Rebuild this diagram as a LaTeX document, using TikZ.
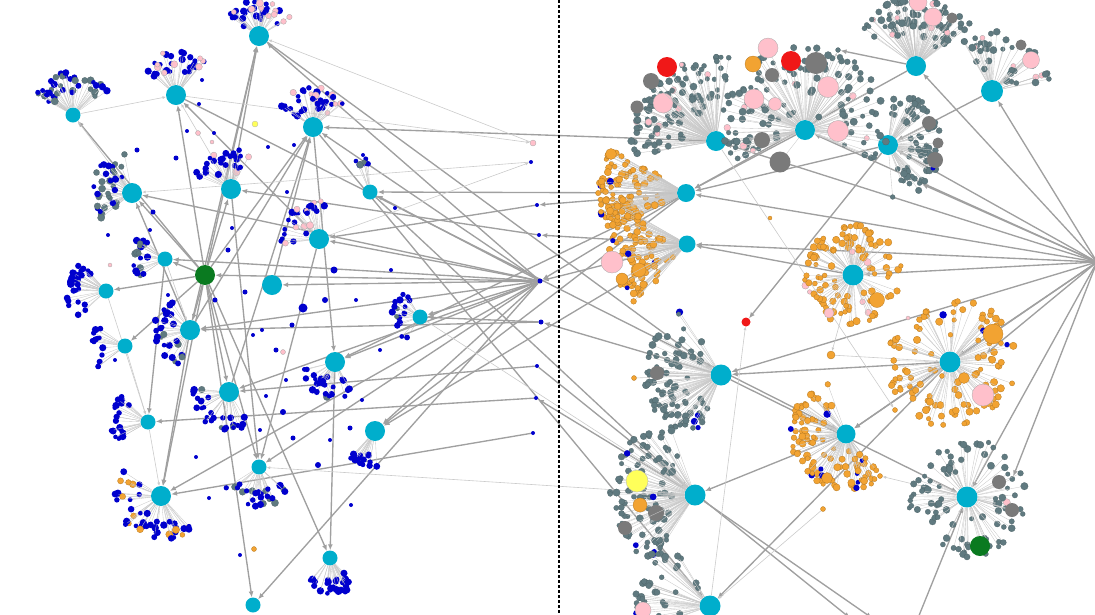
\documentclass[tikz,border=0pt]{standalone}
\usepackage{tikz}
\usetikzlibrary{calc,backgrounds,arrows.meta}

\definecolor{hubcyan}{RGB}{0,174,204}
\definecolor{rootgreen}{RGB}{10,122,32}
\definecolor{dotblue}{RGB}{0,0,205}
\definecolor{dotpink}{RGB}{255,192,203}
\definecolor{dotslate}{RGB}{96,122,128}
\definecolor{dotgray}{RGB}{122,122,122}
\definecolor{dotorange}{RGB}{242,163,50}
\definecolor{dotred}{RGB}{240,24,24}
\definecolor{dotyellow}{RGB}{255,255,90}
\definecolor{edgegray}{RGB}{160,160,160}
\definecolor{fangray}{RGB}{200,200,200}

\tikzset{
  hub/.style={circle, fill=hubcyan, inner sep=0pt, minimum size=20pt},
  smallhub/.style={hub, minimum size=15pt},
  rootnode/.style={hub, fill=rootgreen},
  satdot/.style={circle, inner sep=0pt, minimum size=4pt},
  bluedot/.style={satdot, fill=dotblue},
  pinkdot/.style={satdot, fill=dotpink, draw=gray!70, line width=0.3pt},
  slatedot/.style={satdot, fill=dotslate, draw=dotslate!80!black, line width=0.2pt},
  graydot/.style={satdot, fill=dotgray},
  orangedot/.style={satdot, fill=dotorange, draw=dotorange!75!black, line width=0.3pt},
  reddot/.style={satdot, fill=dotred},
  yellowdot/.style={satdot, fill=dotyellow, draw=gray!60, line width=0.3pt},
  greendot/.style={satdot, fill=rootgreen},
  fanline/.style={draw=fangray, line width=0.35pt},
  link/.style={draw=edgegray, line width=1.35pt, -{Latex[length=6pt,width=5pt]}},
  faint/.style={draw=edgegray!55, line width=0.6pt, -{Latex[length=3.5pt,width=3pt]}},
  divider/.style={black, line width=1.3pt, dash pattern=on 3pt off 2pt},
}

% fan of satellites round a hub:
% hub, direction, spread, rmin, rmax, count, main style, other style, share of other
\newcommand{\fan}[9]{%
  \foreach \k in {1,...,#6}{%
    \pgfmathsetmacro\fanang{#2+#3*(rnd-0.5)}%
    \pgfmathsetmacro\fandist{#4+(#5-#4)*sqrt(rnd)}%
    \pgfmathsetmacro\fansz{4.5+3*rnd}%
    \pgfmathsetmacro\fanpick{rnd<#9 ? 1 : 0}%
    \coordinate (#1-p\k) at ($(#1)+(\fanang:\fandist)$);
    \draw[fanline] (#1) -- (#1-p\k);
    \ifdim\fanpick pt>0.5pt
      \node[#8, minimum size=\fansz pt] (#1-\k) at (#1-p\k) {};
    \else
      \node[#7, minimum size=\fansz pt] (#1-\k) at (#1-p\k) {};
    \fi
  }%
}

\begin{document}
\begin{tikzpicture}[x=1pt, y=-1pt]
\pgfmathsetseed{42}
\useasboundingbox (0,0) rectangle (1095,614);

% Hubs, left part
\node[hub] (L1) at (259,36) {};
\node[hub] (L2) at (176,95) {};
\node[smallhub] (L3) at (73,115) {};
\node[hub] (L4) at (313,127) {};
\node[hub] (L5) at (132,193) {};
\node[hub] (L6) at (231,189) {};
\node[smallhub] (L7) at (370,192) {};
\node[hub] (L8) at (319,239) {};
\node[smallhub] (L9) at (165,259) {};
\node[rootnode] (G) at (205,275) {};
\node[hub] (L10) at (272,285) {};
\node[smallhub] (L11) at (106,291) {};
\node[smallhub] (L12) at (420,317) {};
\node[hub] (L13) at (190,330) {};
\node[smallhub] (L14) at (125,346) {};
\node[hub] (L15) at (335,362) {};
\node[hub] (L16) at (229,392) {};
\node[hub] (L17) at (375,431) {};
\node[smallhub] (L18) at (148,422) {};
\node[smallhub] (L19) at (259,467) {};
\node[hub] (L20) at (161,496) {};
\node[smallhub] (L21) at (330,558) {};
\node[smallhub] (L22) at (253,605) {};

% Hubs, right part
\node[hub] (R1) at (716,141) {};
\node[hub] (R2) at (805,130) {};
\node[hub] (R3) at (916,66) {};
\node[hub, minimum size=22pt] (R4) at (992,91) {};
\node[hub] (R5) at (888,145) {};
\node[hub, minimum size=18pt] (R6) at (686,193) {};
\node[smallhub, minimum size=17pt] (R7) at (687,244) {};
\node[hub, minimum size=21pt] (R8) at (853,275) {};
\node[hub, minimum size=21pt] (R9) at (950,362) {};
\node[hub, minimum size=21pt] (R10) at (721,375) {};
\node[hub, minimum size=19pt] (R11) at (846,434) {};
\node[hub, minimum size=21pt] (R12) at (967,497) {};
\node[hub, minimum size=21pt] (R13) at (695,495) {};
\node[hub, minimum size=21pt] (R14) at (710,606) {};

% Middle dots and free ends
\node[pinkdot, minimum size=6pt] (m1) at (533,143) {};
\node[bluedot] (m2) at (531,162) {};
\node[bluedot] (m3) at (537,205) {};
\node[bluedot] (m4) at (539,235) {};
\node[bluedot, minimum size=5pt] (M) at (540,281) {};
\node[bluedot, minimum size=5pt] (m5) at (541,322) {};
\node[bluedot] (m6) at (537,366) {};
\node[bluedot] (m7) at (536,398) {};
\node[bluedot] (m8) at (533,433) {};
\coordinate (E) at (1097,262);
\coordinate (b1) at (872,618);
\coordinate (b2) at (850,618);
\coordinate (b3) at (918,618);

% Satellite fans
\fan{L1}{270}{120}{14}{36}{36}{bluedot}{pinkdot}{0.3}
\fan{L2}{265}{90}{16}{44}{30}{bluedot}{pinkdot}{0.35}
\fan{L3}{265}{120}{14}{44}{40}{slatedot}{bluedot}{0.5}
\fan{L4}{268}{110}{14}{40}{36}{bluedot}{pinkdot}{0.25}
\fan{L5}{200}{120}{14}{42}{36}{bluedot}{slatedot}{0.45}
\fan{L6}{245}{110}{14}{40}{28}{bluedot}{pinkdot}{0.15}
\fan{L7}{265}{40}{22}{34}{8}{slatedot}{bluedot}{0.4}
\fan{L8}{230}{120}{12}{38}{26}{bluedot}{pinkdot}{0.3}
\fan{L9}{185}{80}{14}{34}{18}{bluedot}{slatedot}{0.4}
\fan{L11}{180}{100}{18}{40}{30}{bluedot}{bluedot}{0}
\fan{L12}{180}{120}{14}{30}{18}{bluedot}{slatedot}{0.2}
\fan{L13}{170}{140}{16}{36}{26}{bluedot}{slatedot}{0.15}
\fan{L14}{175}{90}{20}{34}{15}{bluedot}{bluedot}{0}
\fan{L15}{115}{110}{14}{36}{26}{bluedot}{slatedot}{0.15}
\fan{L16}{125}{140}{14}{38}{28}{bluedot}{slatedot}{0.2}
\fan{L17}{110}{70}{18}{38}{18}{bluedot}{bluedot}{0}
\fan{L18}{175}{100}{20}{38}{20}{bluedot}{bluedot}{0}
\fan{L19}{95}{110}{16}{40}{25}{bluedot}{slatedot}{0.3}
\fan{L20}{130}{170}{20}{46}{42}{bluedot}{orangedot}{0.2}
\fan{L21}{90}{90}{14}{38}{30}{bluedot}{bluedot}{0}
\fan{R1}{225}{110}{20}{85}{110}{slatedot}{pinkdot}{0.06}
\fan{R2}{270}{230}{15}{85}{130}{slatedot}{pinkdot}{0.06}
\fan{R3}{270}{110}{20}{70}{80}{slatedot}{pinkdot}{0.06}
\fan{R4}{300}{120}{15}{60}{45}{slatedot}{pinkdot}{0.1}
\fan{R5}{0}{170}{14}{55}{70}{slatedot}{bluedot}{0.04}
\fan{R6}{183}{58}{25}{88}{105}{orangedot}{bluedot}{0.04}
\fan{R7}{170}{80}{18}{80}{95}{orangedot}{bluedot}{0.04}
\fan{R8}{0}{360}{15}{50}{110}{orangedot}{pinkdot}{0.04}
\fan{R9}{0}{360}{15}{66}{110}{orangedot}{bluedot}{0.04}
\fan{R10}{175}{130}{20}{76}{90}{slatedot}{bluedot}{0.06}
\fan{R11}{150}{200}{15}{56}{100}{orangedot}{bluedot}{0.05}
\fan{R12}{0}{360}{18}{60}{90}{slatedot}{pinkdot}{0.03}
\fan{R13}{185}{130}{20}{85}{100}{slatedot}{bluedot}{0.06}
\fan{R14}{200}{80}{20}{80}{40}{slatedot}{bluedot}{0.05}

% Large satellites
\foreach \h/\s/\x/\y/\d [count=\i] in {
  R1/reddot/667/67/20, R1/pinkdot/663/103/20, R1/graydot/651/81/16, R1/graydot/637/107/13,
  R2/reddot/791/61/20, R2/pinkdot/768/48/20, R2/graydot/816/63/22, R2/pinkdot/828/87/21,
  R2/pinkdot/754/99/20, R2/pinkdot/775/104/13, R2/orangedot/753/64/16, R2/graydot/762/140/16,
  R2/graydot/780/162/21, R2/pinkdot/838/131/21, R2/graydot/772/75/14,
  R3/pinkdot/933/17/18, R3/pinkdot/918/2/18, R3/graydot/952/18/11,
  R4/pinkdot/1031/60/17, R4/graydot/1021/45/11,
  R5/graydot/929/123/14, R5/graydot/935/160/16, R5/graydot/938/143/11,
  R6/orangedot/611/154/11,
  R7/pinkdot/612/262/22, R7/orangedot/639/270/14, R7/orangedot/622/279/12,
  R8/orangedot/877/300/15, R8/pinkdot/829/313/10,
  R9/orangedot/993/334/20, R9/pinkdot/983/395/22, R9/orangedot/964/378/11,
  R10/graydot/657/373/14,
  R11/orangedot/827/478/11,
  R12/greendot/980/546/20, R12/graydot/999/482/14, R12/graydot/1012/510/14,
  R13/yellowdot/637/481/22, R13/orangedot/640/505/14, R13/graydot/656/513/16, R13/graydot/625/528/14,
  R14/pinkdot/643/610/16}{
  \coordinate (\h-q\i) at (\x,\y);
  \draw[fanline] (\h) -- (\h-q\i);
  \node[\s, minimum size=\d pt] (\h-big\i) at (\h-q\i) {};
}

% Loose dots
\foreach \x/\y/\d [count=\i] in {137/150/5, 153/212/5, 176/158/5, 187/131/4, 214/133/4, 199/104/4,
  287/192/4, 294/145/4, 268/147/4, 334/270/7, 303/308/9, 325/300/6, 292/325/5, 245/292/5,
  228/250/5, 215/300/5, 253/335/4, 262/330/4, 276/350/5, 283/412/6, 266/396/4, 293/438/5,
  318/465/6, 330/440/4, 351/505/4, 240/555/4, 209/498/4, 196/457/4, 108/235/4, 115/360/4,
  141/258/4, 168/295/4, 232/228/4, 286/380/4, 260/430/4, 350/428/5, 362/400/4, 380/350/4,
  356/300/4, 391/270/4, 395/208/4, 363/155/4, 202/80/4, 150/230/4}
  \node[bluedot, minimum size=\d pt] (ld\i) at (\x,\y) {};
\foreach \s/\x/\y/\d [count=\i] in {pinkdot/198/133/5, pinkdot/212/142/4, pinkdot/283/352/5,
  pinkdot/110/265/4, yellowdot/255/124/6, orangedot/254/549/5,
  orangedot/831/355/8, orangedot/634/378/5, orangedot/895/410/5, orangedot/823/509/5,
  orangedot/880/476/5, orangedot/770/218/4, pinkdot/908/318/4, reddot/746/322/9,
  slatedot/838/50/5}
  \node[\s, minimum size=\d pt] (lo\i) at (\x,\y) {};

% Edges
\begin{pgfonlayer}{background}
  \foreach \a/\b in {E/R3, E/R4, E/R2, E/R1, E/R5, E/R6, E/R7, E/R8, E/R9, E/R10,
    E/R11, E/R12, E/R12-2, E/R9-3, E/R5-5, R3/R6, R3/lo15, R4/R5, R5/lo14, R2/R6, R5/R6,
    R8/R7, R9/R11, R11/R13, R10/R12, R9/R14, b3/R12, R13/b1, m6/b2, R9/R10,
    R6/M, R7/M, R6/m3, R7/m4, R10/m5, R13/m7, R6/L7, R6/L17, R7/L17, R6/L15, R1/L4,
    L1/R10, L4/R14, L7/R13, L2/R11,
    M/L12, M/L8, M/L15, M/L17, M/L13, M/L10, M/G, M/L5, M/L9, M/L16, M/L19, M/L20,
    M/L7, M/L4, M/L22, M/L1, m3/L8, m4/L6, m5/L13, m6/L16, m8/L20, m5/L12, m7/L18,
    G/L1, G/L2, G/L5, G/L6, G/L9, G/L11, G/L4, G/L13, G/L16, G/L22, G/L21, G/L20,
    G/L19, G/L3, G/L14, L13/L20, L4/L15, L15/L21, L8/L2, L6/L1, L13/L1, L10/L4,
    L13/L4, L16/L4, L13/L5, L8/L19, L6/L19, L9/L18}
    \draw[link] (\a) -- (\b);
  \foreach \a/\b in {m1/L1, m2/L5, L5/L3, L2/m1, L8/m2, R14/lo14, R1/lo9, lo7/R9,
    lo8/R10, R8/lo7, L11/L18, L14/L18, L18/L20, R13/L19, L12/R13, L9/L13, lo10/R14,
    R12/lo11, L6/L2, L3/L2, R2/lo15}
    \draw[faint] (\a) -- (\b);
\end{pgfonlayer}

% Divider
\coordinate (divtop) at (559,0);
\coordinate (divbot) at (559,614);
\draw[divider] (divtop) -- (divbot);
\end{tikzpicture}
\end{document}
